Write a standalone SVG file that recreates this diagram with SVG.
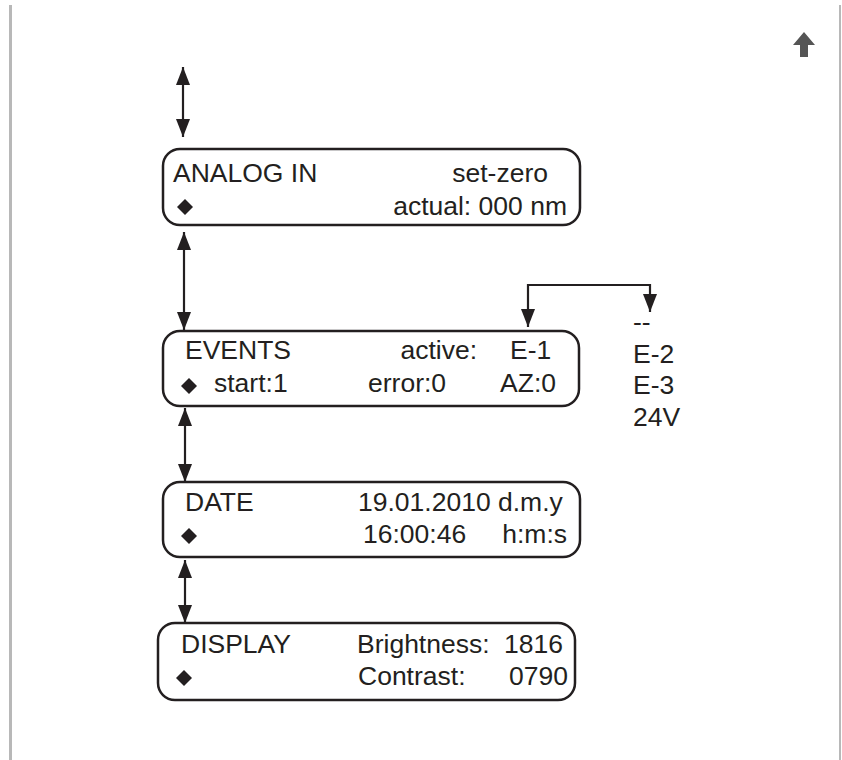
<svg xmlns="http://www.w3.org/2000/svg" width="842" height="760" viewBox="0 0 842 760">
<style>
.box{fill:none;stroke:#231f20;stroke-width:2.5}
.t{font-family:"Liberation Sans",Arial,sans-serif;font-size:26.5px;fill:#231f20}
.e{text-anchor:end}
.con{fill:none;stroke:#231f20;stroke-width:2.2}
.dia{fill:#231f20}
</style>
<defs>
<marker id="ah2" viewBox="0 0 18 14" refX="18" refY="7" markerWidth="18" markerHeight="14" markerUnits="userSpaceOnUse" orient="auto-start-reverse">
<path d="M0,0 L18,7 L0,14 Z" fill="#231f20"/>
</marker>
</defs>
<rect x="0" y="0" width="842" height="760" fill="#ffffff"/>
<rect x="9" y="5" width="3" height="755" fill="#b8b8b8"/>
<rect x="839" y="5" width="2" height="755" fill="#b8b8b8"/>
<path d="M804,32 L815,45 L808,45 L808,57 L800,57 L800,45 L793,45 Z" fill="#555555"/>

<g id="connectors">
<line class="con" x1="183" y1="67" x2="183" y2="137" marker-start="url(#ah2)" marker-end="url(#ah2)"/>
<line class="con" x1="184" y1="232" x2="184" y2="330" marker-start="url(#ah2)" marker-end="url(#ah2)"/>
<line class="con" x1="185" y1="408" x2="185" y2="482" marker-start="url(#ah2)" marker-end="url(#ah2)"/>
<line class="con" x1="185" y1="560" x2="185" y2="623" marker-start="url(#ah2)" marker-end="url(#ah2)"/>
<path class="con" d="M528,327 V285 H650 V312" marker-start="url(#ah2)" marker-end="url(#ah2)"/>
</g>

<g id="analog-in">
<rect class="box" x="163" y="149" width="417" height="76" rx="17"/>
<text class="t" x="173" y="182">ANALOG IN</text>
<text class="t e" x="548" y="182">set-zero</text>
<text class="t e" x="567" y="215">actual: 000 nm</text>
<path class="dia" d="M185,199 L193,207 L185,215 L177,207 Z"/>
</g>

<g id="events">
<rect class="box" x="163" y="331" width="416" height="75" rx="17"/>
<text class="t" x="185" y="359">EVENTS</text>
<text class="t e" x="477" y="359">active:</text>
<text class="t" x="510" y="359">E-1</text>
<path class="dia" d="M189,378 L197,386 L189,394 L181,386 Z"/>
<text class="t" x="214" y="392">start:1</text>
<text class="t" x="368" y="392">error:0</text>
<text class="t e" x="556" y="392">AZ:0</text>
</g>

<g id="event-options">
<text class="t" x="633" y="331">--</text>
<text class="t" x="633" y="363">E-2</text>
<text class="t" x="633" y="394">E-3</text>
<text class="t" x="633" y="426">24V</text>
</g>

<g id="date">
<rect class="box" x="163" y="482" width="417" height="75" rx="17"/>
<text class="t" x="185" y="511">DATE</text>
<text class="t" x="358" y="511">19.01.2010 d.m.y</text>
<path class="dia" d="M189,528 L197,536 L189,544 L181,536 Z"/>
<text class="t" x="363" y="543">16:00:46</text>
<text class="t e" x="567" y="543">h:m:s</text>
</g>

<g id="display">
<rect class="box" x="158" y="623" width="417" height="77" rx="17"/>
<text class="t" x="181" y="653">DISPLAY</text>
<text class="t" x="357" y="653">Brightness:</text>
<text class="t e" x="563" y="653">1816</text>
<path class="dia" d="M184,670 L192,678 L184,686 L176,678 Z"/>
<text class="t" x="358" y="685">Contrast:</text>
<text class="t e" x="568" y="685">0790</text>
</g>
</svg>
